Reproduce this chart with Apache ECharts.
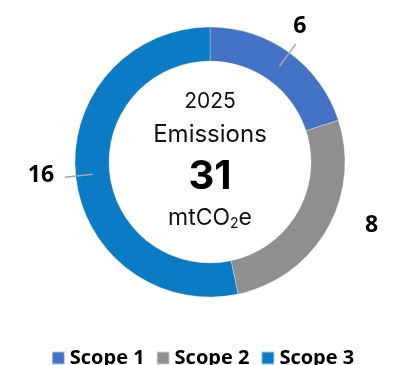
<!DOCTYPE html>
<html>
<head>
<meta charset="utf-8">
<script src="https://cdn.jsdelivr.net/npm/echarts@6/dist/echarts.min.js"></script>
<style>
  html, body { margin: 0; padding: 0; background: #fff; }
  #chart { width: 405px; height: 365px; }
</style>
</head>
<body>
<div id="chart"></div>
<script>
// Emissions by scope (mtCO2e)
const categories = ['Scope 1', 'Scope 2', 'Scope 3'];
const values = [6, 8, 16];
const colors = ['#4472C4', '#8E8F8F', '#0A7BC4'];
const centerTitle = ['2025', 'Emissions'];
const centerTotal = '31';

const CX = 210, CY = 162;
const labelFont = 'Open Sans';
const centerFont = 'Inter';

// per-slice nudges for the value labels (px)
const labelNudge = [[-9, 0], [16, -21], [-2, -4]];

const ringData = categories.map((name, i) => ({
  name, value: values[i], itemStyle: { color: colors[i] }
}));

const leaderData = categories.map((name, i) => ({
  name, value: values[i],
  label: { show: i !== 1 },
  labelLine: { show: i !== 1 }
}));

const valueLabelData = categories.map((name, i) => ({ name, value: values[i] }));

const chart = echarts.init(document.getElementById('chart'), null, { renderer: 'canvas' });

chart.setOption({
  animation: false,
  backgroundColor: '#fff',
  color: colors,
  legend: {
    data: categories,
    left: 'center',
    top: 343,
    icon: 'rect',
    itemWidth: 13,
    itemHeight: 13,
    itemGap: 11,
    selectedMode: false,
    textStyle: { fontFamily: labelFont, fontWeight: 'bold', fontSize: 20, color: '#000' }
  },
  series: [
    {
      name: 'ring',
      type: 'pie',
      center: [CX, CY],
      radius: [101, 135],
      startAngle: 90,
      clockwise: true,
      silent: true,
      label: { show: false },
      labelLine: { show: false },
      itemStyle: { borderColor: 'rgba(255,255,255,0.6)', borderWidth: 0.5 },
      emphasis: { disabled: true },
      data: ringData,
      z: 2
    },
    {
      // leader lines from mid-ring outwards
      name: 'leaders',
      type: 'pie',
      center: [CX, CY],
      radius: [0, 118],
      startAngle: 90,
      silent: true,
      itemStyle: { color: 'rgba(0,0,0,0)' },
      label: { show: true, position: 'outside', color: 'rgba(0,0,0,0)', fontSize: 10, formatter: ' ' },
      labelLine: { show: true, length: 28, length2: 0, lineStyle: { color: '#A6A6A6', width: 1.5 } },
      avoidLabelOverlap: false,
      emphasis: { disabled: true },
      legendHoverLink: false,
      data: leaderData,
      z: 3
    },
    {
      // value labels
      name: 'values',
      type: 'pie',
      center: [CX, CY],
      radius: [150, 180],
      startAngle: 90,
      silent: true,
      itemStyle: { color: 'rgba(0,0,0,0)' },
      label: {
        show: true, position: 'inside', formatter: '{c}',
        fontFamily: labelFont, fontWeight: 'bold', fontSize: 23, color: '#000'
      },
      labelLine: { show: false },
      labelLayout: (p) => ({ dx: labelNudge[p.dataIndex][0], dy: labelNudge[p.dataIndex][1] }),
      emphasis: { disabled: true },
      legendHoverLink: false,
      data: valueLabelData,
      z: 4
    }
  ],
  graphic: [
    {
      type: 'text', x: CX, y: 102,
      style: { text: centerTitle[0], fontFamily: centerFont, fontSize: 21, fill: '#111',
               textAlign: 'center', textVerticalAlign: 'middle' }
    },
    {
      type: 'text', x: CX, y: 135,
      style: { text: centerTitle[1], fontFamily: centerFont, fontSize: 24, fill: '#111',
               textAlign: 'center', textVerticalAlign: 'middle' }
    },
    {
      type: 'text', x: CX, y: 177,
      style: { text: centerTotal, fontFamily: centerFont, fontWeight: 'bold', fontSize: 40, fill: '#000',
               textAlign: 'center', textVerticalAlign: 'middle' }
    },
    {
      type: 'text', x: CX, y: 218,
      style: {
        text: '{a|mtCO}{b|2}{a|e}',
        textAlign: 'center', textVerticalAlign: 'middle',
        rich: {
          a: { fontFamily: centerFont, fontSize: 23, fill: '#111', lineHeight: 28 },
          b: { fontFamily: centerFont, fontSize: 14, fill: '#111', padding: [11, 0, 0, 0] }
        }
      }
    }
  ]
});
</script>
</body>
</html>
